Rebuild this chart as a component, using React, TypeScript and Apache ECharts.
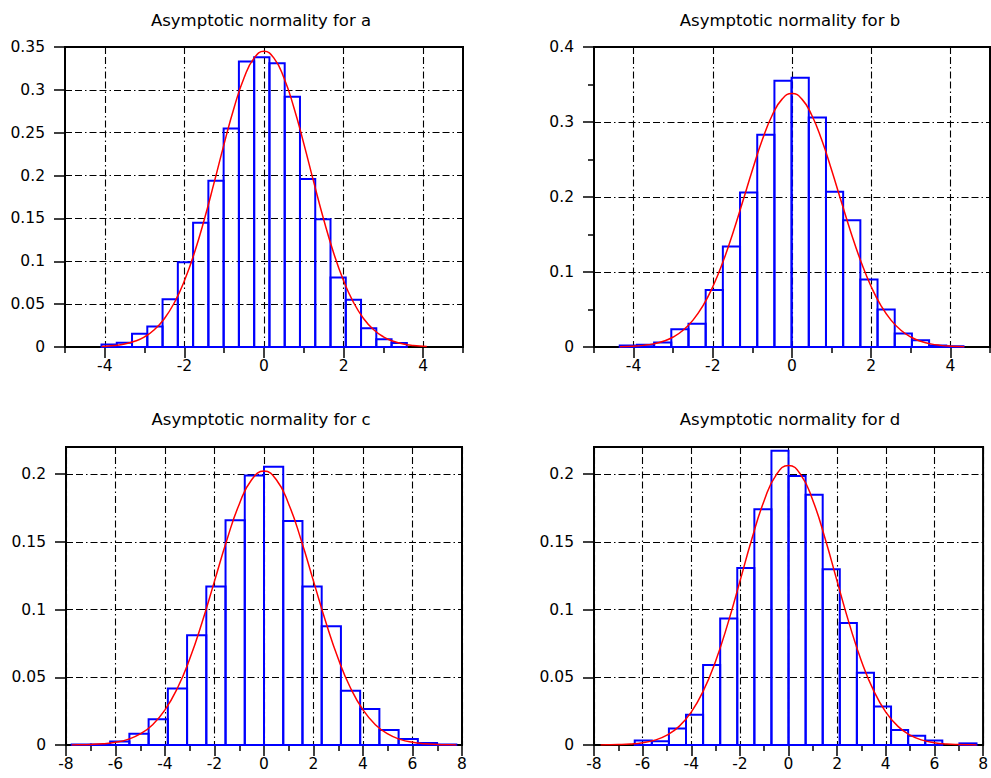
import React, { useEffect, useRef } from 'react';
import * as echarts from 'echarts';

const titles = [
  'Asymptotic normality for a',
  'Asymptotic normality for b',
  'Asymptotic normality for c',
  'Asymptotic normality for d',
];

// Histogram bins: first edge, bin width, bar heights (density)
const binStartA = -4.083;
const binWidthA = 0.3836;
const heightsA = [0.003, 0.005, 0.0156, 0.024, 0.0557, 0.099, 0.145, 0.194, 0.255, 0.333, 0.338, 0.331, 0.292, 0.196, 0.149, 0.081, 0.055, 0.022, 0.009, 0.0047];

const binStartB = -4.35;
const binWidthB = 0.434;
const heightsB = [0.002, 0.003, 0.006, 0.0236, 0.031, 0.076, 0.134, 0.206, 0.283, 0.355, 0.359, 0.306, 0.207, 0.169, 0.09, 0.05, 0.018, 0.009, 0.002, 0.001];

const binStartC = -7.77;
const binWidthC = 0.777;
const heightsC = [0.0003, 0.0004, 0.0025, 0.0083, 0.019, 0.0417, 0.081, 0.117, 0.166, 0.199, 0.2054, 0.1654, 0.117, 0.0877, 0.04, 0.0265, 0.011, 0.0044, 0.0015, 0.0004];

const binStartD = -7.73;
const binWidthD = 0.7027;
const heightsD = [0, 0, 0.0034, 0.0027, 0.0122, 0.0223, 0.059, 0.0934, 0.1306, 0.174, 0.2172, 0.1985, 0.1848, 0.1297, 0.09, 0.0534, 0.0284, 0.011, 0.0068, 0.0034, 0, 0.0012];

// Fitted normal curves
const curveXA = [-4.08, -4, -3.75, -3.5, -3.25, -3, -2.75, -2.5, -2.25, -2, -1.75, -1.5, -1.25, -1, -0.75, -0.5, -0.25, 0, 0.25, 0.5, 0.75, 1, 1.25, 1.5, 1.75, 2, 2.25, 2.5, 2.75, 3, 3.25, 3.5, 3.75, 4, 4.09];
const curveYA = [0.00068, 0.00087, 0.00179, 0.00353, 0.00663, 0.0119, 0.0204, 0.0333, 0.0519, 0.0772, 0.1097, 0.1487, 0.1923, 0.2373, 0.2795, 0.3142, 0.337, 0.345, 0.337, 0.3142, 0.2795, 0.2373, 0.1923, 0.1487, 0.1097, 0.0772, 0.0519, 0.0333, 0.0204, 0.0119, 0.00663, 0.00353, 0.00179, 0.00087, 0.00066];

const curveXB = [-4.35, -4, -3.75, -3.5, -3.25, -3, -2.75, -2.5, -2.25, -2, -1.75, -1.5, -1.25, -1, -0.75, -0.5, -0.25, 0, 0.25, 0.5, 0.75, 1, 1.25, 1.5, 1.75, 2, 2.25, 2.5, 2.75, 3, 3.25, 3.5, 3.75, 4, 4.35];
const curveYB = [0.00038, 0.00108, 0.00217, 0.00415, 0.00762, 0.01335, 0.0224, 0.0358, 0.0549, 0.0804, 0.1126, 0.1507, 0.1929, 0.2361, 0.2762, 0.309, 0.3305, 0.338, 0.3305, 0.309, 0.2762, 0.2361, 0.1929, 0.1507, 0.1126, 0.0804, 0.0549, 0.0358, 0.0224, 0.01335, 0.00762, 0.00415, 0.00217, 0.00108, 0.00038];

const curveXC = [-7.77, -7.5, -7, -6.5, -6, -5.5, -5, -4.5, -4, -3.5, -3, -2.5, -2, -1.5, -1, -0.5, 0, 0.5, 1, 1.5, 2, 2.5, 3, 3.5, 4, 4.5, 5, 5.5, 6, 6.5, 7, 7.5, 7.77];
const curveYC = [0.00009, 0.00015, 0.00037, 0.00089, 0.00198, 0.00415, 0.00815, 0.015, 0.0259, 0.0419, 0.0636, 0.0906, 0.121, 0.1514, 0.1778, 0.1958, 0.2022, 0.1958, 0.1778, 0.1514, 0.121, 0.0906, 0.0636, 0.0419, 0.0259, 0.015, 0.00815, 0.00415, 0.00198, 0.00089, 0.00037, 0.00015, 0.00009];

const curveXD = [-7.73, -7.5, -7, -6.5, -6, -5.5, -5, -4.5, -4, -3.5, -3, -2.5, -2, -1.5, -1, -0.5, 0, 0.5, 1, 1.5, 2, 2.5, 3, 3.5, 4, 4.5, 5, 5.5, 6, 6.5, 7, 7.5, 7.73];
const curveYD = [0.00007, 0.00011, 0.00029, 0.00072, 0.00167, 0.0036, 0.00727, 0.01374, 0.0243, 0.0401, 0.0619, 0.0894, 0.1208, 0.1527, 0.1805, 0.1996, 0.2064, 0.1996, 0.1805, 0.1527, 0.1208, 0.0894, 0.0619, 0.0401, 0.0243, 0.01374, 0.00727, 0.0036, 0.00167, 0.00072, 0.00029, 0.00011, 0.00007];

// Tick values
const xTicksAB = [-4, -2, 0, 2, 4];
const xMinorTicksAB = [-5, -3, -1, 1, 3, 5];
const yTicksCD = [0, 0.05, 0.1, 0.15, 0.2];

const FONT = '"DejaVu Sans", sans-serif';
const DASHDOT = [7, 3, 7, 3, 1.5, 3];

const gridBoxes = [
  { left: 65, top: 47, width: 398, height: 300 },
  { left: 594, top: 47, width: 396, height: 300 },
  { left: 66, top: 447, width: 396, height: 298 },
  { left: 594, top: 447, width: 396, height: 298 },
];
const titlePos = [
  [261, 20],
  [790, 20],
  [261, 419],
  [790, 419],
];

function makeBins(start: number, width: number, heights: number[]) {
  return heights.map((h, i) => [start + i * width, start + (i + 1) * width, h]);
}

function pairs(xs: number[], ys: number[]) {
  return xs.map((x, i) => [x, ys[i]]);
}

const labelStyle = { color: '#000', fontFamily: FONT, fontSize: 15.5 };
const splitLine = { show: true, lineStyle: { color: '#000', width: 1.1, type: DASHDOT } };
const axisLine = { show: true, onZero: false, lineStyle: { color: '#000', width: 2 } };
const axisTick = { show: true, length: 11, inside: false, lineStyle: { color: '#000', width: 1.5 } };
const minorTick = { show: true, splitNumber: 2, length: 6, lineStyle: { color: '#000', width: 1.5 } };

export default function App() {
  const ref = useRef<HTMLDivElement>(null);

  useEffect(() => {
    if (!ref.current) return;
    const chart = echarts.init(ref.current, null, { renderer: 'svg' });

    const bins = [
      makeBins(binStartA, binWidthA, heightsA),
      makeBins(binStartB, binWidthB, heightsB),
      makeBins(binStartC, binWidthC, heightsC),
      makeBins(binStartD, binWidthD, heightsD),
    ];
    const curves = [
      pairs(curveXA, curveYA),
      pairs(curveXB, curveYB),
      pairs(curveXC, curveYC),
      pairs(curveXD, curveYD),
    ];

    const grid = gridBoxes.map((g) => ({
      ...g,
      show: true,
      borderColor: '#000',
      borderWidth: 2,
      backgroundColor: 'transparent',
      containLabel: false,
    }));

    const xAxis: any[] = [
      {
        type: 'value', gridIndex: 0, min: -5, max: 5,
        axisLine, splitLine,
        axisTick: { ...axisTick, customValues: xTicksAB },
        axisLabel: { ...labelStyle, margin: 11, customValues: xTicksAB },
      },
      {
        type: 'value', gridIndex: 1, min: -5, max: 5,
        axisLine, splitLine,
        axisTick: { ...axisTick, customValues: xTicksAB },
        axisLabel: { ...labelStyle, margin: 11, customValues: xTicksAB },
      },
      {
        type: 'value', gridIndex: 2, min: -8, max: 8, interval: 2,
        axisLine, splitLine, axisTick, minorTick,
        axisLabel: { ...labelStyle, margin: 11 },
      },
      {
        type: 'value', gridIndex: 3, min: -8, max: 8, interval: 2,
        axisLine, splitLine, axisTick, minorTick,
        axisLabel: { ...labelStyle, margin: 11 },
      },
      // minor ticks for a & b
      {
        type: 'value', gridIndex: 0, min: -5, max: 5, position: 'bottom',
        axisLine: { show: false, onZero: false },
        splitLine: { show: false },
        axisLabel: { show: false },
        axisTick: { show: true, length: 6, lineStyle: { color: '#000', width: 1.5 }, customValues: xMinorTicksAB },
      },
      {
        type: 'value', gridIndex: 1, min: -5, max: 5, position: 'bottom',
        axisLine: { show: false, onZero: false },
        splitLine: { show: false },
        axisLabel: { show: false },
        axisTick: { show: true, length: 6, lineStyle: { color: '#000', width: 1.5 }, customValues: xMinorTicksAB },
      },
    ];

    const yAxis: any[] = [
      {
        type: 'value', gridIndex: 0, min: 0, max: 0.35, interval: 0.05,
        axisLine, splitLine, axisTick,
        axisLabel: { ...labelStyle, margin: 20 },
      },
      {
        type: 'value', gridIndex: 1, min: 0, max: 0.4, interval: 0.1,
        axisLine, splitLine, axisTick, minorTick,
        axisLabel: { ...labelStyle, margin: 20 },
      },
      {
        type: 'value', gridIndex: 2, min: 0, max: 0.22,
        axisLine, splitLine,
        axisTick: { ...axisTick, customValues: yTicksCD },
        axisLabel: { ...labelStyle, margin: 20, customValues: yTicksCD },
      },
      {
        type: 'value', gridIndex: 3, min: 0, max: 0.22,
        axisLine, splitLine,
        axisTick: { ...axisTick, customValues: yTicksCD },
        axisLabel: { ...labelStyle, margin: 20, customValues: yTicksCD },
      },
    ];

    const series: any[] = [];
    for (let i = 0; i < 4; i++) {
      series.push({
        type: 'custom',
        xAxisIndex: i,
        yAxisIndex: i,
        data: bins[i],
        encode: { x: [0, 1], y: 2 },
        z: 3,
        renderItem: (params: any, api: any) => {
          const h = api.value(2);
          if (!(h > 0)) return null;
          const p0 = api.coord([api.value(0), h]);
          const p1 = api.coord([api.value(1), 0]);
          return {
            type: 'rect',
            shape: { x: p0[0], y: p0[1], width: p1[0] - p0[0], height: p1[1] - p0[1] },
            style: { fill: 'none', stroke: '#0000ff', lineWidth: 2 },
          };
        },
      });
      series.push({
        type: 'line',
        xAxisIndex: i,
        yAxisIndex: i,
        data: curves[i],
        smooth: true,
        showSymbol: false,
        symbol: 'none',
        z: 4,
        lineStyle: { color: '#ff0000', width: 1.5 },
      });
    }

    const graphic = titles.map((t, i) => ({
      type: 'text',
      x: titlePos[i][0],
      y: titlePos[i][1],
      style: {
        text: t,
        fill: '#000',
        font: `16.5px ${FONT}`,
        textAlign: 'center',
        textVerticalAlign: 'middle',
      },
    }));

    chart.setOption({
      animation: false,
      backgroundColor: '#fff',
      grid,
      xAxis,
      yAxis,
      series,
      graphic,
    });

    return () => chart.dispose();
  }, []);

  return (
    <div
      ref={ref}
      style={{ position: 'absolute', left: 0, top: 0, width: 991, height: 778, background: '#fff' }}
    />
  );
}
